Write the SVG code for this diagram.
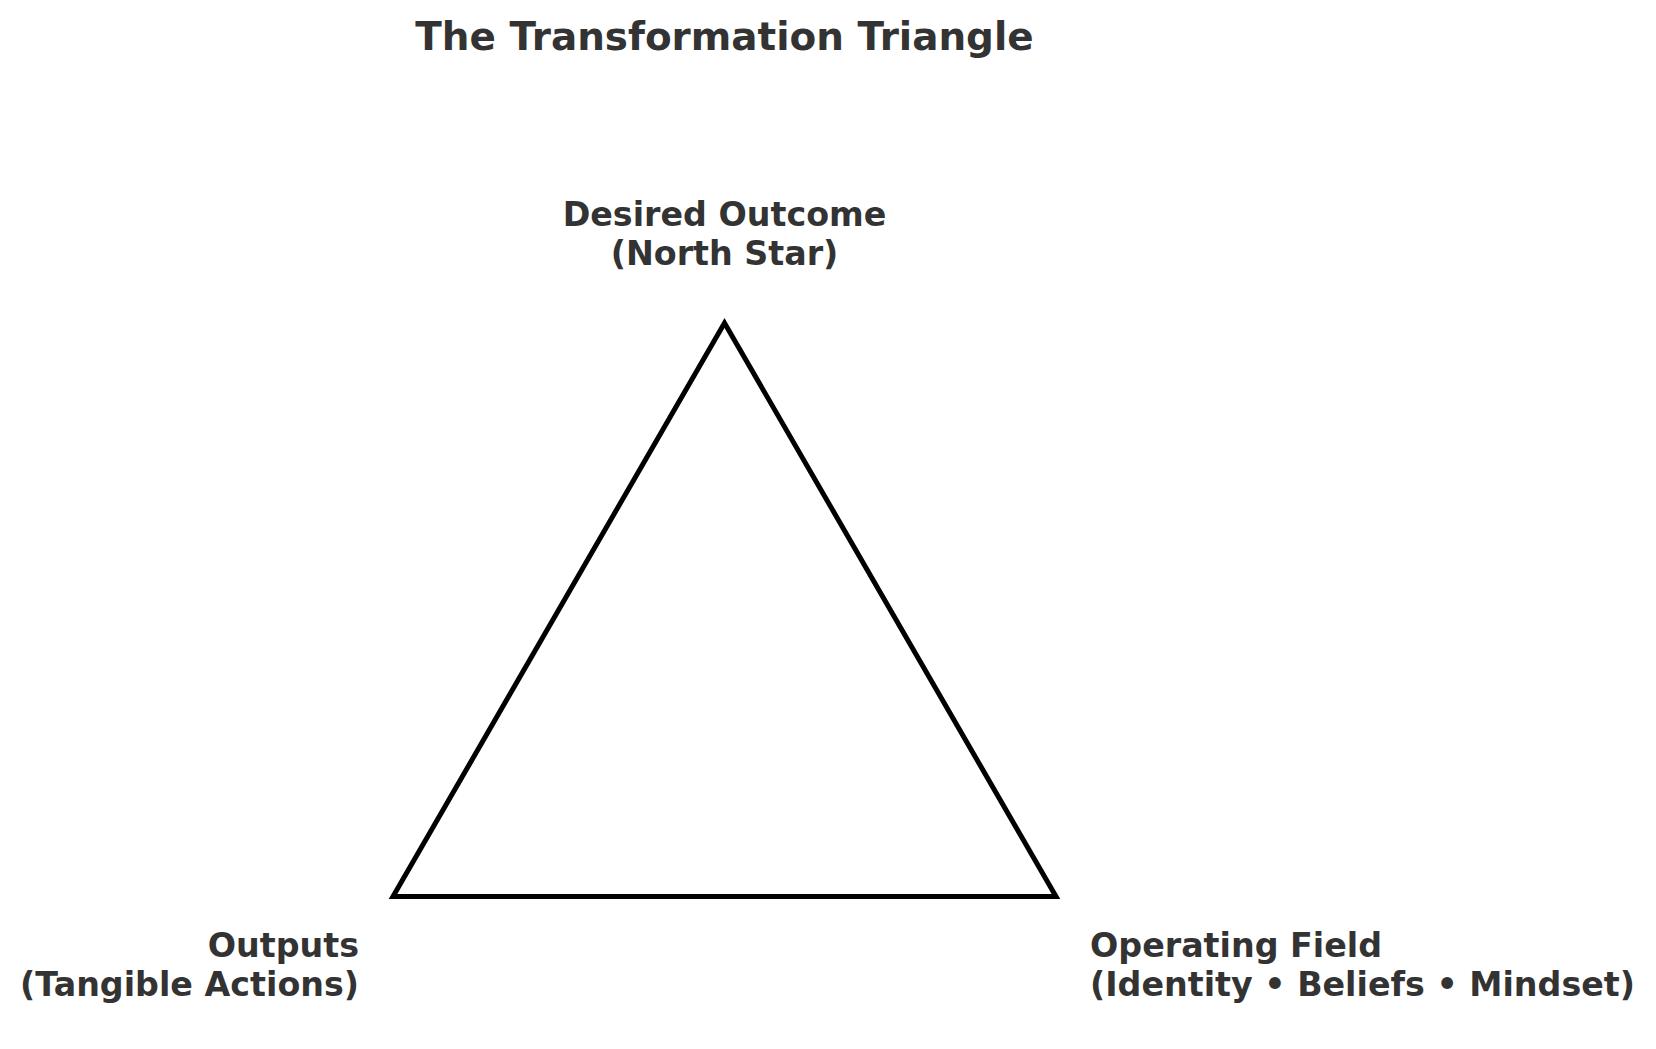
<svg xmlns="http://www.w3.org/2000/svg" width="1656" height="1049" viewBox="0 0 1656 1049">
<style>
.t{font-family:"DejaVu Sans",sans-serif;font-weight:bold;fill:#333333}
.title{font-size:38.9px}
.lbl{font-size:33.3px}
</style>
<rect width="1656" height="1049" fill="#ffffff"/>
<text class="t title" x="724.5" y="50" text-anchor="middle">The Transformation Triangle</text>
<g id="connectors">
<polygon points="724.5,323 393,896.5 1056,896.5" fill="none" stroke="#000000" stroke-width="5" stroke-linejoin="miter"/>
</g>
<g id="node-desired">
<text class="t lbl" x="724.5" y="226" text-anchor="middle">Desired Outcome</text>
<text class="t lbl" x="724.5" y="265" text-anchor="middle">(North Star)</text>
</g>
<g id="node-outputs">
<text class="t lbl" x="359" y="957" text-anchor="end">Outputs</text>
<text class="t lbl" x="359" y="996" text-anchor="end">(Tangible Actions)</text>
</g>
<g id="node-operating">
<text class="t lbl" x="1090" y="957">Operating Field</text>
<text class="t lbl" x="1090" y="996">(Identity • Beliefs • Mindset)</text>
</g>
</svg>
